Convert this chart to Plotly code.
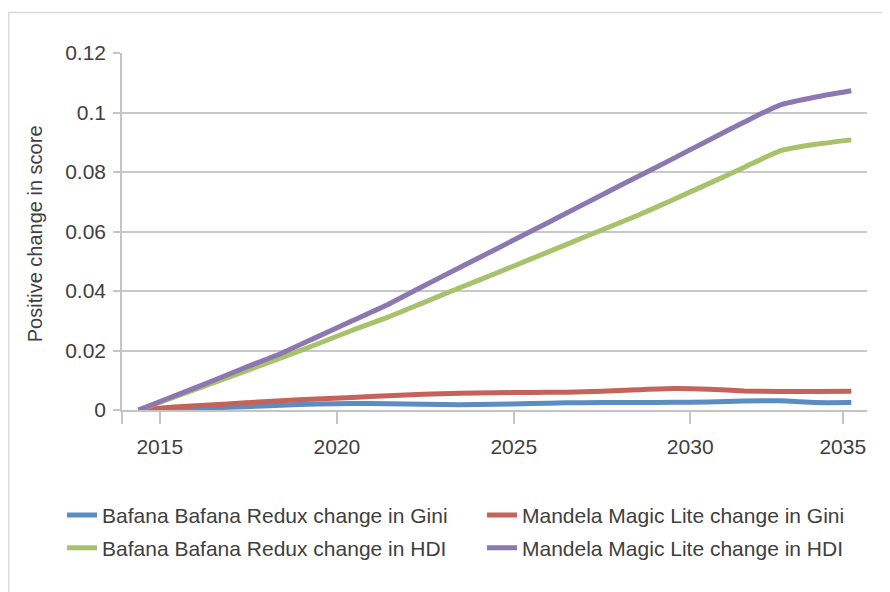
import plotly.graph_objects as go

years = list(range(2015, 2036))
bafana_gini = [0, 0.0003, 0.0007, 0.0011, 0.0016, 0.0020, 0.0022, 0.0021, 0.0019, 0.0018,
               0.0019, 0.0022, 0.0024, 0.0025, 0.0025, 0.0026, 0.0027, 0.0030, 0.0031, 0.0025, 0.0025]
mandela_gini = [0, 0.0010, 0.0017, 0.0024, 0.0031, 0.0037, 0.0042, 0.0048, 0.0053, 0.0056,
                0.0058, 0.0059, 0.0060, 0.0063, 0.0068, 0.0072, 0.0070, 0.0064, 0.0062, 0.0062, 0.0063]
bafana_hdi = [0, 0.0043, 0.0087, 0.0131, 0.0175, 0.0221, 0.0268, 0.0312, 0.0361, 0.0410,
              0.0458, 0.0507, 0.0556, 0.0605, 0.0654, 0.0707, 0.0761, 0.0816, 0.0871, 0.0893, 0.0908]
mandela_hdi = [0, 0.0047, 0.0094, 0.0143, 0.0190, 0.0245, 0.0300, 0.0355, 0.0417, 0.0478,
               0.0539, 0.0600, 0.0661, 0.0723, 0.0784, 0.0845, 0.0907, 0.0968, 0.1025, 0.1052, 0.1073]

tick_positions = [2014.54, 2015.60, 2020.57, 2025.53, 2030.48, 2034.76]
tick_labels = ["", "2015", "2020", "2025", "2030", "2035"]
y_ticks = [0, 0.02, 0.04, 0.06, 0.08, 0.1, 0.12]
y_labels = ["0", "0.02", "0.04", "0.06", "0.08", "0.1", "0.12"]

names = ["Bafana Bafana Redux change in Gini", "Mandela Magic Lite change in Gini",
         "Bafana Bafana Redux change in HDI", "Mandela Magic Lite change in HDI"]
colors = ["#5b8dc4", "#c5635a", "#a7c26b", "#8c77b0"]
series = [bafana_gini, mandela_gini, bafana_hdi, mandela_hdi]
legends = ["legend", "legend2", "legend3", "legend4"]

FONT = "Liberation Sans, Arial, sans-serif"
TXT = "#404040"

fig = go.Figure()
for name, col, vals, lg in zip(names, colors, series, legends):
    fig.add_trace(go.Scatter(x=years, y=vals, mode="lines", name=name,
                             line=dict(color=col, width=5, shape="spline", smoothing=0.5),
                             legend=lg))

def leg(x, y):
    return dict(orientation="h", x=x, y=y, xanchor="left", yanchor="middle",
                font=dict(size=21, color=TXT), bgcolor="rgba(0,0,0,0)")

col1, col2 = -0.0805, 0.4832
row1, row2 = -0.295, -0.387

fig.update_layout(
    width=882, height=584,
    margin=dict(l=114, r=23, t=45, b=182),
    paper_bgcolor="white", plot_bgcolor="white",
    font=dict(family=FONT, size=21, color=TXT),
    xaxis=dict(range=[2014.54, 2035.44], tickmode="array", tickvals=tick_positions,
               ticktext=tick_labels, showgrid=False, zeroline=False,
               showline=True, linecolor="#c4c4c4", linewidth=1.5,
               ticks="outside", ticklen=12, tickcolor="#c4c4c4", tickwidth=1.5,
               ticklabelstandoff=5, tickfont=dict(size=21, color=TXT)),
    yaxis=dict(range=[0, 0.12], tickmode="array", tickvals=y_ticks, ticktext=y_labels,
               showgrid=True, gridcolor="#c8c8c8", gridwidth=1.5, zeroline=False,
               showline=True, linecolor="#c4c4c4", linewidth=1.5,
               ticks="outside", ticklen=7, tickcolor="#c4c4c4", tickwidth=1.5,
               ticklabelstandoff=3, tickfont=dict(size=21, color=TXT)),
    legend=leg(col1, row1),
    legend2=leg(col2, row1),
    legend3=leg(col1, row2),
    legend4=leg(col2, row2),
    showlegend=True,
)

fig.add_annotation(text="Positive change in score", xref="paper", yref="paper",
                   x=-0.1164, y=0.493, xanchor="center", yanchor="middle",
                   textangle=-90, showarrow=False, font=dict(size=20, color=TXT))

fig.add_shape(type="rect", xref="paper", yref="paper", x0=-0.1523, x1=1.04, y0=-0.55, y1=1.1134,
              line=dict(color="#d9d9d9", width=1.5), fillcolor="rgba(0,0,0,0)", layer="below")

fig.write_html("out.html")
